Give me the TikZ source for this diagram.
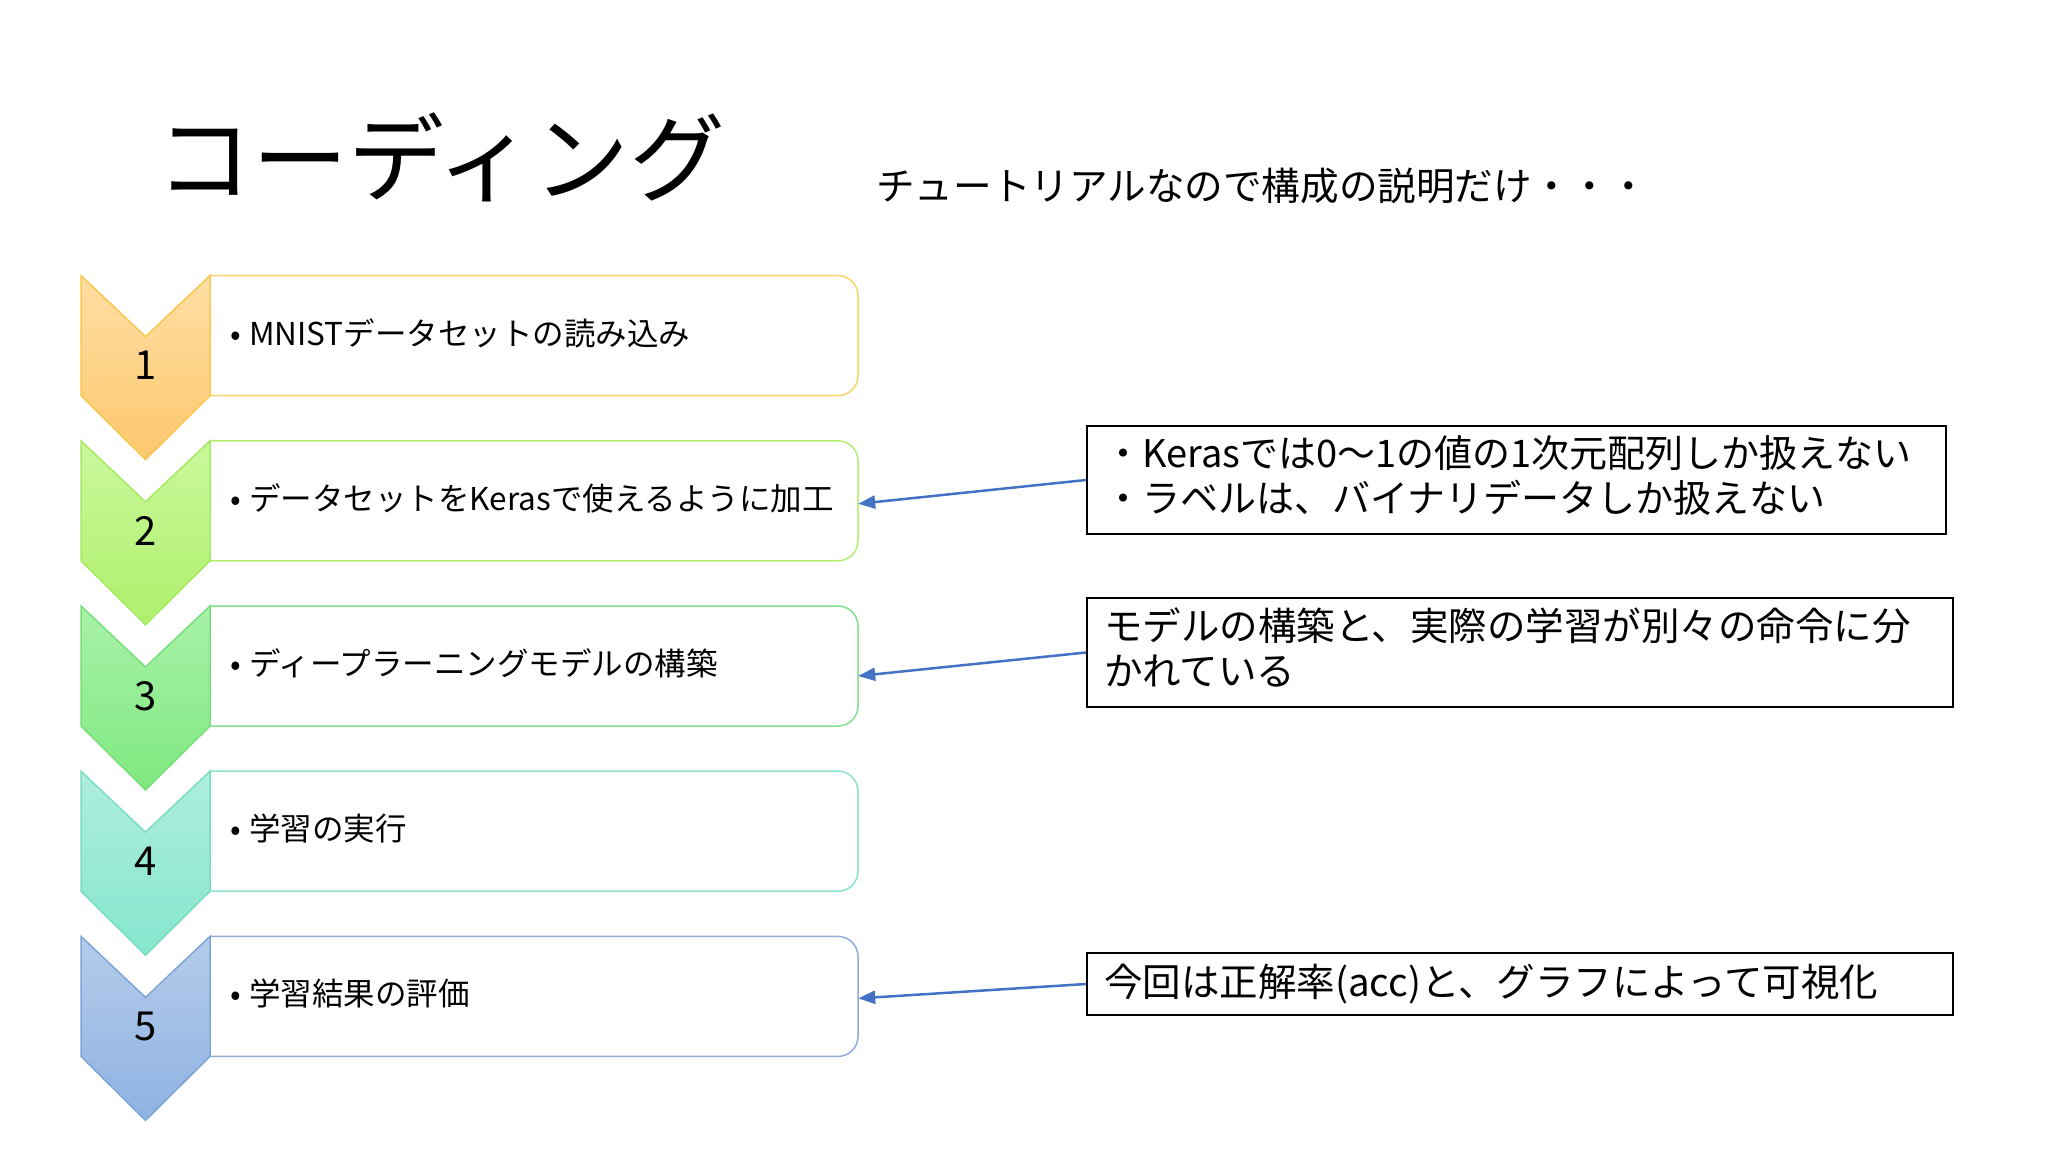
\documentclass[tikz,border=0pt]{standalone}
\usepackage{fontspec}
\setmainfont{Noto Sans CJK JP}
\usetikzlibrary{arrows.meta}
\definecolor{ch1t}{HTML}{FFDEA3}\definecolor{ch1b}{HTML}{FDC86E}\definecolor{ch1d}{HTML}{F8C750}\definecolor{bx1}{HTML}{F9D466}
\definecolor{ch2t}{HTML}{CAF89C}\definecolor{ch2b}{HTML}{AEF06C}\definecolor{ch2d}{HTML}{A8E963}\definecolor{bx2}{HTML}{B4EE70}
\definecolor{ch3t}{HTML}{A8F2A8}\definecolor{ch3b}{HTML}{80E880}\definecolor{ch3d}{HTML}{78DE7C}\definecolor{bx3}{HTML}{80E08C}
\definecolor{ch4t}{HTML}{AEEEDD}\definecolor{ch4b}{HTML}{86E6CD}\definecolor{ch4d}{HTML}{7ADDC2}\definecolor{bx4}{HTML}{88E3CC}
\definecolor{ch5t}{HTML}{B5CCEA}\definecolor{ch5b}{HTML}{8EB2E2}\definecolor{ch5d}{HTML}{7FA5D8}\definecolor{bx5}{HTML}{8EAEDC}
\definecolor{arrowblue}{HTML}{4472C4}
\newcommand{\itembul}{\makebox[19pt][l]{•}}
\begin{document}
\begin{tikzpicture}[x=1pt,y=-1pt,
  boxline/.style={line width=1.5pt, fill=white},
  numtxt/.style={font=\fontsize{40}{48}\selectfont, inner sep=0},
  itemtxt/.style={anchor=west, font=\fontsize{31.5}{38}\selectfont, inner sep=0},
  note/.style={draw=black, line width=2pt, align=left, inner xsep=17pt, inner ysep=0pt},
  conn/.style={draw=arrowblue, line width=2.5pt, -{Triangle[length=17pt,width=13pt]}}]
\useasboundingbox[fill=white] (0,0) rectangle (2048,1152);

\node[anchor=west, font=\fontsize{96}{112}\selectfont, inner sep=0] (title) at (156,157) {コーディング};
\node[anchor=west, font=\fontsize{38.6}{44}\selectfont, inner sep=0] (sub) at (876,186) {チュートリアルなので構成の説明だけ・・・};

\foreach \i/\ct/\cb/\cd/\bx in {1/ch1t/ch1b/ch1d/bx1, 2/ch2t/ch2b/ch2d/bx2, 3/ch3t/ch3b/ch3d/bx3, 4/ch4t/ch4b/ch4d/bx4, 5/ch5t/ch5b/ch5d/bx5}{
  \pgfmathsetmacro{\T}{275.6+165.2*(\i-1)}
  \draw[boxline, draw=\bx] (210,\T) -- (838,\T) arc[start angle=-90,end angle=0,radius=20] -- (858,\T+100) arc[start angle=0,end angle=90,radius=20] -- (210,\T+120);
  \node[inner sep=0, minimum width=648pt, minimum height=120pt] (b\i) at (534,\T+60) {};
  \shade[top color=\ct, bottom color=\cb, draw=\cd, line width=1.5pt, line join=miter]
    (81,\T) -- (145.5,\T+61) -- (210,\T) -- (210,\T+120) -- (145.5,\T+184) -- (81,\T+120) -- cycle;
  \node[numtxt] (k\i) at (145.5,\T+90) {\i};
}

\node[itemtxt] (t1) at (230,333) {\itembul MNISTデータセットの読み込み};
\node[itemtxt] (t2) at (230,498) {\itembul データセットをKerasで使えるように加工};
\node[itemtxt] (t3) at (230,663) {\itembul ディープラーニングモデルの構築};
\node[itemtxt] (t4) at (230,828) {\itembul 学習の実行};
\node[itemtxt] (t5) at (230,993.5) {\itembul 学習結果の評価};

\node[note, font=\fontsize{38}{45}\selectfont, text width=825pt, minimum height=108pt, text height=34pt, text depth=59pt] (n1) at (1516.5,480) {・Kerasでは0〜1の値の1次元配列しか扱えない\\・ラベルは、バイナリデータしか扱えない};
\node[note, font=\fontsize{38.5}{45}\selectfont, text width=832pt, minimum height=109pt, text height=34pt, text depth=59pt] (n2) at (1520,652.5) {モデルの構築と、実際の学習が別々の命令に分\\かれている};
\node[note, font=\fontsize{38.5}{45}\selectfont, text width=832pt, minimum height=62pt] (n3) at (1520,984) {今回は正解率(acc)と、グラフによって可視化};

\draw[conn] (n1.west) -- ([yshift=-3pt]b2.east);
\draw[conn] (n2.west) -- ([yshift=-10pt]b3.east);
\draw[conn] (n3.west) -- ([yshift=-2pt]b5.east);
\end{tikzpicture}
\end{document}
